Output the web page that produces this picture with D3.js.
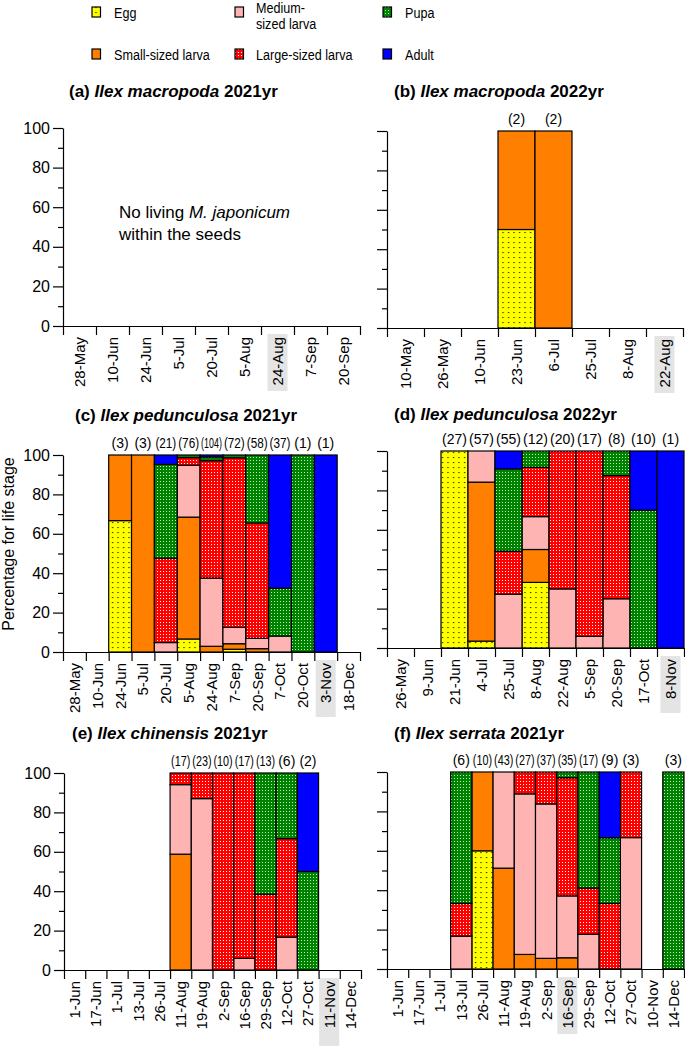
<!DOCTYPE html>
<html><head><meta charset="utf-8">
<script src="https://cdn.jsdelivr.net/npm/d3@7"></script>
<style>body{margin:0;background:#fff} svg{display:block} text{font-family:"Liberation Sans",Arial,Helvetica,sans-serif;fill:#000}</style>
</head><body>
<svg id="chart" width="685" height="1046"></svg>
<script>
// ---------------- DATA ----------------
const stageKeys  = ["egg","small","medium","large","pupa","adult"];
const stageNames = ["Egg","Small-sized larva","Medium-sized larva","Large-sized larva","Pupa","Adult"];
const yTicks      = [0,20,40,60,80,100];
const yMinorTicks = [10,30,50,70,90];

// (a) Ilex macropoda 2021 — no living insects
const aDates = ["28-May","10-Jun","24-Jun","5-Jul","20-Jul","5-Aug","24-Aug","7-Sep","20-Sep"];

// (b) Ilex macropoda 2022
const bDates  = ["10-May","26-May","10-Jun","23-Jun","6-Jul","25-Jul","8-Aug","22-Aug"];
const bEgg    = [0,0,0,50,0,0,0,0];
const bSmall  = [0,0,0,50,100,0,0,0];
const bMedium = [0,0,0,0,0,0,0,0];
const bLarge  = [0,0,0,0,0,0,0,0];
const bPupa   = [0,0,0,0,0,0,0,0];
const bAdult  = [0,0,0,0,0,0,0,0];
const bN      = [null,null,null,2,2,null,null,null];

// (c) Ilex pedunculosa 2021
const cDates  = ["28-May","10-Jun","24-Jun","5-Jul","20-Jul","5-Aug","24-Aug","7-Sep","20-Sep","7-Oct","20-Oct","3-Nov","18-Dec"];
const cEgg    = [0,0,66.7,0,0,6.6,0,1.4,0,0,0,0,0];
const cSmall  = [0,0,33.3,100,0,61.8,2.9,2.8,1.7,0,0,0,0];
const cMedium = [0,0,0,0,4.8,26.3,34.6,8.3,5.2,8.1,0,0,0];
const cLarge  = [0,0,0,0,42.9,3.9,59.6,86.1,58.6,0,0,0,0];
const cPupa   = [0,0,0,0,47.6,1.3,1.9,1.4,34.5,24.3,100,0,0];
const cAdult  = [0,0,0,0,4.8,0,1.0,0,0,67.6,0,100,0];
const cN      = [null,null,3,3,21,76,104,72,58,37,1,1,null];

// (d) Ilex pedunculosa 2022
const dDates  = ["26-May","9-Jun","21-Jun","4-Jul","25-Jul","8-Aug","22-Aug","5-Sep","20-Sep","17-Oct","8-Nov"];
const dEgg    = [0,0,100,3.5,0,33.3,0,0,0,0,0];
const dSmall  = [0,0,0,80.7,0,16.7,0,0,0,0,0];
const dMedium = [0,0,0,15.8,27.3,16.7,30,5.9,25,0,0];
const dLarge  = [0,0,0,0,21.8,25,70,94.1,62.5,0,0];
const dPupa   = [0,0,0,0,41.8,8.3,0,0,12.5,70,0];
const dAdult  = [0,0,0,0,9.1,0,0,0,0,30,100];
const dN      = [null,null,27,57,55,12,20,17,8,10,1];

// (e) Ilex chinensis 2021
const eDates  = ["1-Jun","17-Jun","1-Jul","13-Jul","26-Jul","11-Aug","19-Aug","2-Sep","16-Sep","29-Sep","12-Oct","27-Oct","11-Nov","14-Dec"];
const eEgg    = [0,0,0,0,0,0,0,0,0,0,0,0,0,0];
const eSmall  = [0,0,0,0,0,58.8,0,0,0,0,0,0,0,0];
const eMedium = [0,0,0,0,0,35.3,87,0,5.9,0,16.7,0,0,0];
const eLarge  = [0,0,0,0,0,5.9,13,100,94.1,38.5,50,0,0,0];
const ePupa   = [0,0,0,0,0,0,0,0,0,61.5,33.3,50,0,0];
const eAdult  = [0,0,0,0,0,0,0,0,0,0,0,50,0,0];
const eN      = [null,null,null,null,null,17,23,10,17,13,6,2,null,null];

// (f) Ilex serrata 2021
const fDates  = ["1-Jun","17-Jun","1-Jul","13-Jul","26-Jul","11-Aug","19-Aug","2-Sep","16-Sep","29-Sep","12-Oct","27-Oct","10-Nov","14-Dec"];
const fEgg    = [0,0,0,0,60,0,0,0,0,0,0,0,0,0];
const fSmall  = [0,0,0,0,40,51.2,7.4,5.4,5.7,0,0,0,0,0];
const fMedium = [0,0,0,16.7,0,48.8,81.5,78.4,31.4,17.6,0,66.7,0,0];
const fLarge  = [0,0,0,16.7,0,0,11.1,16.2,60,23.5,33.3,33.3,0,0];
const fPupa   = [0,0,0,66.7,0,0,0,0,2.9,58.8,33.3,0,0,100];
const fAdult  = [0,0,0,0,0,0,0,0,0,0,33.3,0,0,0];
const fN      = [null,null,null,6,10,43,27,37,35,17,9,3,null,3];

// ---------------- DRAWING ----------------
const svg = d3.select("#chart");
const defs = svg.append("defs");

function pat(id, w, h, bg, dots){
  const p = defs.append("pattern").attr("id",id).attr("width",w).attr("height",h).attr("patternUnits","userSpaceOnUse");
  p.append("rect").attr("width",w).attr("height",h).attr("fill",bg);
  dots.forEach(([dx,dy,s,c])=>p.append("rect").attr("x",dx).attr("y",dy).attr("width",s).attr("height",s).attr("fill",c));
}
pat("pEgg",5.5,5,"#ffff00",[[2,2,1.1,"#000"]]);
pat("pLarge",3,3,"#ff0000",[[1,1,1,"#ffffff"]]);
pat("pPupa",3,3,"#008200",[[1,1,1,"#b8ffb8"]]);
const fills = ["url(#pEgg)","#ff8000","#ffb4b4","url(#pLarge)","url(#pPupa)","#0000ff"];

// Legend
const legendItems = [
  {i:0, sx:92,  sy:7,  tx:114, lines:[["Egg",18]]},
  {i:2, sx:235, sy:7,  tx:256, lines:[["Medium-",13],["sized larva",28.5]]},
  {i:4, sx:383, sy:7,  tx:405, lines:[["Pupa",18]]},
  {i:1, sx:92,  sy:49, tx:114, lines:[["Small-sized larva",59.5]]},
  {i:3, sx:235, sy:49, tx:256, lines:[["Large-sized larva",59.5]]},
  {i:5, sx:383, sy:49, tx:405, lines:[["Adult",59.5]]}
];
legendItems.forEach(it=>{
  svg.append("rect").attr("x",it.sx).attr("y",it.sy).attr("width",8.5).attr("height",10)
     .attr("fill",fills[it.i]).attr("stroke","#000").attr("stroke-width",1.2);
  it.lines.forEach(([t,yy])=>{
    svg.append("text").attr("transform",`translate(${it.tx},${yy}) scale(0.84,1)`)
       .attr("font-size",15).text(t);
  });
});

// Y axis label
svg.append("text").attr("transform","translate(14,544) rotate(-90)")
   .attr("text-anchor","middle").attr("font-size",16).text("Percentage for life stage");

function drawPanel(p){
  const g = svg.append("g");
  const n = p.dates.length;
  const x  = d3.scaleBand().domain(p.dates).range([p.x0,p.x1]).padding(0);
  const xl = d3.scaleLinear().domain([0,n]).range([p.x0,p.x1]);
  const y  = d3.scaleLinear().domain([0,100]).range([p.bottom,p.top]);

  // title
  const t = g.append("text").attr("x",p.x0+p.tdx).attr("y",p.ty).attr("font-size",17).attr("font-weight","bold");
  t.append("tspan").text(p.title[0]);
  t.append("tspan").attr("font-style","italic").text(p.title[1]);
  t.append("tspan").text(p.title[2]);

  // highlight behind label
  if (p.highlight){
    const cx = x(p.highlight)+x.bandwidth()/2;
    g.append("rect").attr("x",cx-10).attr("y",p.bottom+8).attr("width",20).attr("height",p.hh||57).attr("fill","#e4e4e4");
  }

  // bars
  if (p.series){
    const rows = p.dates.map((d,i)=>{const r={date:d}; stageKeys.forEach((k,j)=>r[k]=p.series[j][i]); return r;});
    const stacked = d3.stack().keys(stageKeys).offset(d3.stackOffsetExpand)(rows);
    stacked.forEach((layer,j)=>{
      g.selectAll(null).data(layer.filter(d=>d[1]-d[0]>0)).join("rect")
        .attr("x",d=>x(d.data.date)).attr("width",x.bandwidth())
        .attr("y",d=>y(d[1]*100)).attr("height",d=>y(d[0]*100)-y(d[1]*100))
        .attr("fill",fills[j]).attr("stroke","#000").attr("stroke-width",1.2);
    });
    const bw = x.bandwidth();
    g.selectAll(null).data(p.dates.map((d,i)=>({d,v:p.counts[i]})).filter(o=>o.v!=null)).join("text")
      .attr("x",o=>x(o.d)+bw/2).attr("y",p.top-7)
      .attr("text-anchor","middle").attr("font-size",14).text(o=>`(${o.v})`)
      .each(function(){
        const len = this.getComputedTextLength();
        if (len > bw - 2) d3.select(this).attr("textLength",bw-2).attr("lengthAdjust","spacingAndGlyphs");
      });
  }

  // y axis
  const yAxis = d3.axisLeft(y).tickValues(yTicks).tickSize(10).tickSizeOuter(0).tickPadding(3);
  if (!p.yLabels) yAxis.tickFormat("");
  const ya = g.append("g").attr("transform",`translate(${p.x0},0)`).call(yAxis);
  const ym = g.append("g").attr("transform",`translate(${p.x0},0)`)
     .call(d3.axisLeft(y).tickValues(yMinorTicks).tickSize(5).tickSizeOuter(0).tickFormat(""));
  ym.select(".domain").remove();
  [ya,ym].forEach(a=>{a.selectAll("path,line").attr("stroke","#000").attr("stroke-width",1.2);
    a.selectAll("text").attr("font-size",16).attr("font-family",'"Liberation Sans",Arial,sans-serif').attr("fill","#000");});

  // x axis (ticks at band boundaries)
  const xa = g.append("g").attr("transform",`translate(0,${p.bottom})`)
    .call(d3.axisBottom(xl).tickValues(d3.range(n+1)).tickSize(9).tickSizeOuter(0).tickFormat(""));
  xa.selectAll("path,line").attr("stroke","#000").attr("stroke-width",1.2);

  g.selectAll(null).data(p.dates).join("text")
    .attr("transform",d=>`translate(${x(d)+x.bandwidth()/2},${p.bottom+11}) rotate(-90)`)
    .attr("text-anchor","end").attr("dy","0.36em").attr("font-size",15).text(d=>d);

  if (p.note){
    p.note.forEach(([parts,yy])=>{
      const tt = g.append("text").attr("x",119).attr("y",yy).attr("font-size",17);
      parts.forEach(([s,it])=>tt.append("tspan").attr("font-style",it?"italic":"normal").text(s));
    });
  }
}

drawPanel({dates:aDates, x0:63, x1:360, top:128, bottom:326, yLabels:true,
  title:["(a) ","Ilex macropoda"," 2021yr"], tdx:6, ty:97, highlight:"24-Aug",
  note:[[[["No living ",false],["M. japonicum",true]],218],[[["within the seeds",false]],240]]});
drawPanel({dates:bDates, x0:387, x1:683, top:131, bottom:328, yLabels:false,
  title:["(b) ","Ilex macropoda"," 2022yr"], tdx:7, ty:97, highlight:"22-Aug",
  series:[bEgg,bSmall,bMedium,bLarge,bPupa,bAdult], counts:bN});
drawPanel({dates:cDates, x0:63, x1:360, top:455, bottom:652, yLabels:true,
  title:["(c) ","Ilex pedunculosa"," 2021yr"], tdx:12, ty:421, highlight:"3-Nov",
  series:[cEgg,cSmall,cMedium,cLarge,cPupa,cAdult], counts:cN});
drawPanel({dates:dDates, x0:387, x1:684, top:451, bottom:648, yLabels:false,
  title:["(d) ","Ilex pedunculosa"," 2022yr"], tdx:7, ty:420, highlight:"8-Nov",
  series:[dEgg,dSmall,dMedium,dLarge,dPupa,dAdult], counts:dN});
drawPanel({dates:eDates, x0:64, x1:361, top:773, bottom:970, yLabels:true,
  title:["(e) ","Ilex chinensis"," 2021yr"], tdx:8, ty:739, highlight:"11-Nov", hh:70,
  series:[eEgg,eSmall,eMedium,eLarge,ePupa,eAdult], counts:eN});
drawPanel({dates:fDates, x0:387, x1:684, top:772, bottom:969, yLabels:false,
  title:["(f) ","Ilex serrata"," 2021yr"], tdx:7, ty:739, highlight:"16-Sep",
  series:[fEgg,fSmall,fMedium,fLarge,fPupa,fAdult], counts:fN});
</script>
</body></html>
